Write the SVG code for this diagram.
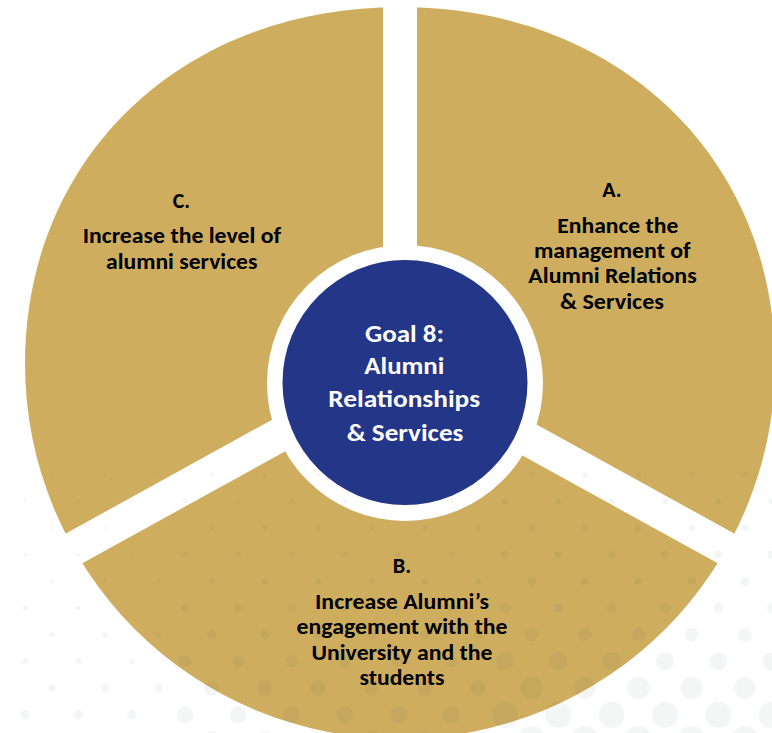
<svg xmlns="http://www.w3.org/2000/svg" xmlns:xlink="http://www.w3.org/1999/xlink" width="772" height="733" viewBox="0 0 772 733">
  <style>
    .gold { fill: #CEAD5E; }
    .lbl { font-family: Carlito, Calibri, Lato, "Liberation Sans", sans-serif; font-weight: bold; font-size: 22px; fill: #000000; text-anchor: middle; }
    .ctr { font-family: Carlito, Calibri, Lato, "Liberation Sans", sans-serif; font-weight: bold; font-size: 24.5px; fill: #FFFFFF; text-anchor: middle; }
    .gap { stroke: #FFFFFF; stroke-width: 34; fill: none; }
    .dot { fill: none; stroke: #4a6464; stroke-opacity: 0.06; stroke-linecap: round; stroke-dasharray: 0 53.333; }
  </style>
  <defs>
    <path id="outer" d="M25,364 C25,157 182.5,7 400,7 C617.5,7 775,157 775,364 A375,375 0 0 1 25,364 Z"/>
    <clipPath id="clipA"><polygon points="400,-10 800,-10 800,589.3 400,368.5"/></clipPath>
    <clipPath id="clipC"><polygon points="400,-10 -10,-10 -10,594.8 400,368.5"/></clipPath>
    <clipPath id="clipB"><polygon points="400,368.5 800,589.3 800,800 -10,800 -10,594.8"/></clipPath>
  </defs>
  <rect x="0" y="0" width="772" height="733" fill="#FFFFFF"/>

  <g id="segment-a">
    <use xlink:href="#outer" href="#outer" class="gold" clip-path="url(#clipA)"/>
    <text class="lbl" x="612" y="196.7" textLength="19.4" lengthAdjust="spacingAndGlyphs">A.</text>
    <text class="lbl" x="617.8" y="232.7" textLength="121" lengthAdjust="spacingAndGlyphs">Enhance the</text>
    <text class="lbl" x="612.3" y="258.3" textLength="156.7" lengthAdjust="spacingAndGlyphs">management of</text>
    <text class="lbl" x="612.5" y="283.3" textLength="168.4" lengthAdjust="spacingAndGlyphs">Alumni Relations</text>
    <text class="lbl" x="612" y="309" textLength="104" lengthAdjust="spacingAndGlyphs">&amp; Services</text>
  </g>

  <g id="segment-b">
    <use xlink:href="#outer" href="#outer" class="gold" clip-path="url(#clipB)"/>
    <text class="lbl" x="402" y="572.7" textLength="18.4" lengthAdjust="spacingAndGlyphs">B.</text>
    <text class="lbl" x="402" y="609" textLength="174" lengthAdjust="spacingAndGlyphs">Increase Alumni’s</text>
    <text class="lbl" x="402" y="634.3" textLength="211" lengthAdjust="spacingAndGlyphs">engagement with the</text>
    <text class="lbl" x="402" y="659.6" textLength="181" lengthAdjust="spacingAndGlyphs">University and the</text>
    <text class="lbl" x="402" y="684.9" textLength="85" lengthAdjust="spacingAndGlyphs">students</text>
  </g>

  <g id="segment-c">
    <use xlink:href="#outer" href="#outer" class="gold" clip-path="url(#clipC)"/>
    <text class="lbl" x="181.4" y="208.3" textLength="17.3" lengthAdjust="spacingAndGlyphs">C.</text>
    <text class="lbl" x="181.8" y="243.3" textLength="198.3" lengthAdjust="spacingAndGlyphs">Increase the level of</text>
    <text class="lbl" x="181.7" y="269.3" textLength="151.3" lengthAdjust="spacingAndGlyphs">alumni services</text>
  </g>

  <g id="dividers">
    <rect x="383" y="-5" width="34" height="320" fill="#FFFFFF"/>
    <line class="gap" x1="400" y1="368.5" x2="-10" y2="594.8"/>
    <line class="gap" x1="400" y1="368.5" x2="810" y2="594.8"/>
    <circle cx="405" cy="383" r="138" fill="#FFFFFF"/>
  </g>

  <g id="dots">
    <path class="dot" stroke-width="2.4" d="M51.7,474.7 H159.3"/>
    <path class="dot" stroke-width="4" d="M211.7,474.7 H479.3"/>
    <path class="dot" stroke-width="5.4" d="M531.7,474.7 H746"/>
    <path class="dot" stroke-width="2.8" d="M25,501.3 H132.7"/>
    <path class="dot" stroke-width="4.4" d="M185,501.3 H452.7"/>
    <path class="dot" stroke-width="6" d="M505,501.3 H772.7"/>
    <path class="dot" stroke-width="3.2" d="M51.7,528 H159.3"/>
    <path class="dot" stroke-width="4.8" d="M211.7,528 H479.3"/>
    <path class="dot" stroke-width="7" d="M531.7,528 H746"/>
    <path class="dot" stroke-width="3.6" d="M25,554.7 H132.7"/>
    <path class="dot" stroke-width="5.2" d="M185,554.7 H452.7"/>
    <path class="dot" stroke-width="8" d="M505,554.7 H772.7"/>
    <path class="dot" stroke-width="4" d="M51.7,581.3 H159.3"/>
    <path class="dot" stroke-width="6" d="M211.7,581.3 H479.3"/>
    <path class="dot" stroke-width="8.6" d="M531.7,581.3 H746"/>
    <path class="dot" stroke-width="4.4" d="M25,608 H132.7"/>
    <path class="dot" stroke-width="7.6" d="M185,608 H452.7"/>
    <path class="dot" stroke-width="10" d="M505,608 H772.7"/>
    <path class="dot" stroke-width="5" d="M51.7,634.7 H159.3"/>
    <path class="dot" stroke-width="9.6" d="M211.7,634.7 H479.3"/>
    <path class="dot" stroke-width="13.4" d="M531.7,634.7 H746"/>
    <path class="dot" stroke-width="6" d="M25,661.3 H132.7"/>
    <path class="dot" stroke-width="12" d="M185,661.3 H452.7"/>
    <path class="dot" stroke-width="18" d="M505,661.3 H772.7"/>
    <path class="dot" stroke-width="7.6" d="M51.7,688 H159.3"/>
    <path class="dot" stroke-width="15" d="M211.7,688 H479.3"/>
    <path class="dot" stroke-width="22" d="M531.7,688 H746"/>
    <path class="dot" stroke-width="9.4" d="M25,714.7 H132.7"/>
    <path class="dot" stroke-width="17" d="M185,714.7 H452.7"/>
    <path class="dot" stroke-width="26" d="M505,714.7 H772.7"/>
    <path class="dot" stroke-width="11" d="M51.7,741.3 H159.3"/>
    <path class="dot" stroke-width="20" d="M211.7,741.3 H479.3"/>
    <path class="dot" stroke-width="30" d="M531.7,741.3 H746"/>
  </g>

  <g id="center">
    <circle cx="405" cy="382.5" r="122.5" fill="#233687"/>
    <text class="ctr" x="404.5" y="342" textLength="79" lengthAdjust="spacingAndGlyphs">Goal 8:</text>
    <text class="ctr" x="404.3" y="374.3" textLength="80" lengthAdjust="spacingAndGlyphs">Alumni</text>
    <text class="ctr" x="404.2" y="407.3" textLength="151.7" lengthAdjust="spacingAndGlyphs">Relationships</text>
    <text class="ctr" x="405" y="440.7" textLength="116.7" lengthAdjust="spacingAndGlyphs">&amp; Services</text>
  </g>
</svg>
